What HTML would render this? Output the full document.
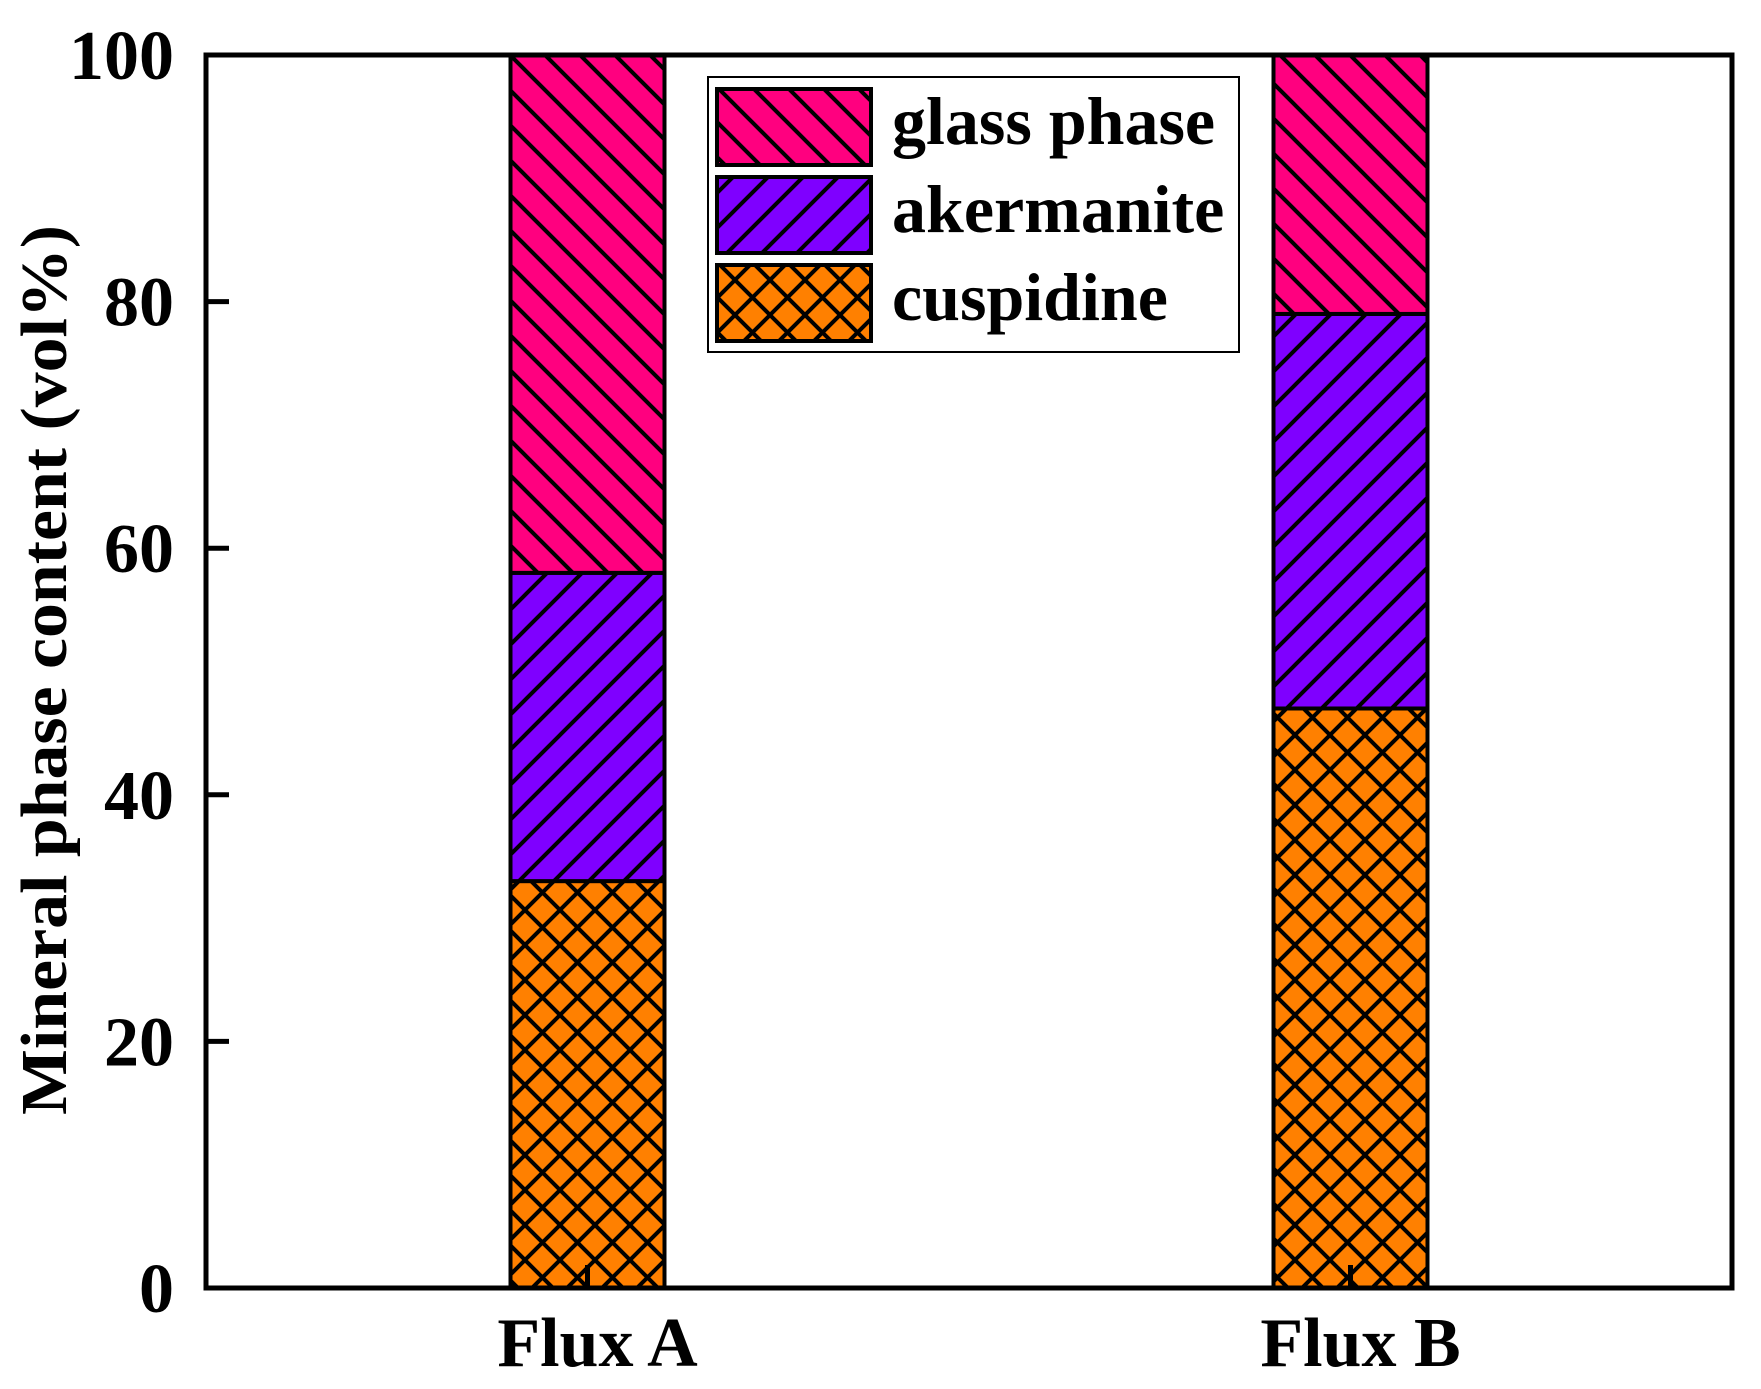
<!DOCTYPE html>
<html><head><meta charset="utf-8"><style>
html,body{margin:0;padding:0;background:#fff;}
svg{display:block;}
text{font-family:"Liberation Serif","Times New Roman",serif;font-weight:bold;fill:#000;}
</style></head><body>
<svg id="chart" width="1761" height="1389" viewBox="0 0 1761 1389">
<defs>
<pattern id="pat-glass" patternUnits="userSpaceOnUse" width="35" height="35">
<rect width="35" height="35" fill="#ff007f"/>
<path d="M-5,-5 L40,40 M-5,30 L5,40 M30,-5 L40,5" stroke="#000" stroke-width="4"/>
</pattern>
<pattern id="pat-aker" patternUnits="userSpaceOnUse" width="35" height="35">
<rect width="35" height="35" fill="#7f00ff"/>
<path d="M-5,40 L40,-5 M-5,5 L5,-5 M30,40 L40,30" stroke="#000" stroke-width="4"/>
</pattern>
<pattern id="pat-cusp" patternUnits="userSpaceOnUse" width="35" height="35">
<rect width="35" height="35" fill="#ff8000"/>
<path d="M-5,-5 L40,40 M-5,30 L5,40 M30,-5 L40,5 M-5,40 L40,-5 M-5,5 L5,-5 M30,40 L40,30" stroke="#000" stroke-width="4"/>
</pattern>
</defs>
<g id="bars"></g>
<g id="axes"></g>
<g id="legend"></g>
</svg>
<script>
const categories = ["Flux A", "Flux B"];
const cuspidine = [33, 47];
const akermanite = [25, 32];
const glassPhase = [42, 21];
const yTicks = [0, 20, 40, 60, 80, 100];
const seriesNames = ["cuspidine", "akermanite", "glass phase"];

const NS = "http://www.w3.org/2000/svg";
const L = 206, R = 1732, T = 55, B = 1288;
function yScale(v){ return B - (v/100)*(B-T); }
function xScale(i){ return L + (R-L)*(i+0.5)/categories.length; }
const barW = 154;
function mk(tag, attrs, parent){
  const e = document.createElementNS(NS, tag);
  for (const k in attrs) e.setAttribute(k, attrs[k]);
  parent.appendChild(e); return e;
}
const bars = document.getElementById('bars');
const axes = document.getElementById('axes');
const legend = document.getElementById('legend');
const series = [cuspidine, akermanite, glassPhase];
const pats = ["url(#pat-cusp)", "url(#pat-aker)", "url(#pat-glass)"];
const keys = ["cuspidine", "akermanite", "glass-phase"];

categories.forEach((c, i) => {
  let base = 0;
  series.forEach((s, j) => {
    const y0 = yScale(base), y1 = yScale(base + s[i]);
    const r = mk('rect', {x: xScale(i)-barW/2, y: y1, width: barW, height: y0-y1, fill: pats[j], stroke: "#000", "stroke-width": 4}, bars);
    
    
    base += s[i];
  });
});

const frame = mk('rect', {x: L, y: T, width: R-L, height: B-T, fill: "none", stroke: "#000", "stroke-width": 5}, axes);



yTicks.forEach(v => {
  const y = yScale(v);
  const t = mk('line', {x1: L, x2: L+23, y1: y, y2: y, stroke: "#000", "stroke-width": 5}, axes);
  
  
  const lb = mk('text', {x: 174, y: y+24, "text-anchor": "end", "font-size": 70}, axes);
  
  
  lb.textContent = v;
});

categories.forEach((c, i) => {
  const x = xScale(i);
  const t = mk('line', {x1: x, x2: x, y1: B, y2: B-23, stroke: "#000", "stroke-width": 5}, axes);
  
  
  const lb = mk('text', {x: x+10, y: 1366, "text-anchor": "middle", "font-size": 70}, axes);
  
  
  lb.textContent = c;
});

const yt = mk('text', {x: 0, y: 0, "text-anchor": "middle", "font-size": 66, transform: "translate(66,670) rotate(-90)", textLength: 890, lengthAdjust: "spacingAndGlyphs"}, axes);


yt.textContent = "Mineral phase content (vol%)";

const lbox = mk('rect', {x: 708, y: 77, width: 531, height: 275, fill: "#fff", stroke: "#000", "stroke-width": 2}, legend);


const lOrder = [2, 1, 0];
lOrder.forEach((j, k) => {
  const y = 89 + k*88;
  const sw = mk('rect', {x: 717, y: y, width: 154, height: 76, fill: pats[j], stroke: "#000", "stroke-width": 4}, legend);
  
  
  const tx = mk('text', {x: 892, y: y+55, "font-size": 68}, legend);
  
  
  tx.textContent = seriesNames[j];
});
</script>
</body></html>
